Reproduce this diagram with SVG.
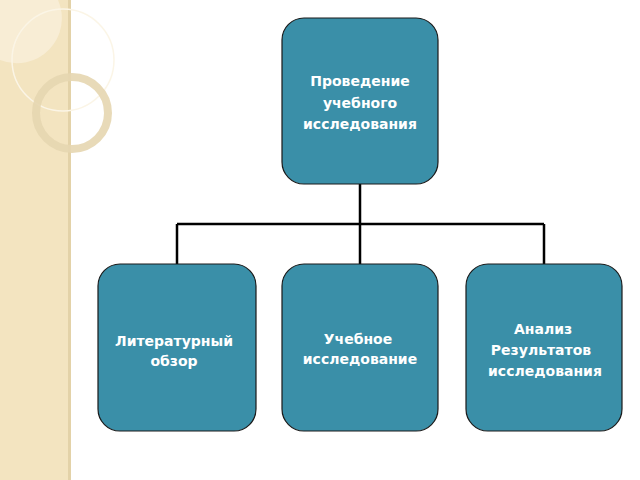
<svg xmlns="http://www.w3.org/2000/svg" width="640" height="480" viewBox="0 0 640 480">
<style>
.b{fill:#3a8fa8;stroke:#1a1a1a;stroke-width:1.2}
.t{font-family:"DejaVu Sans",sans-serif;font-weight:bold;font-size:14px;fill:#fff;text-anchor:middle}
.c{stroke:#000;stroke-width:2.5;fill:none}
</style>
<rect width="640" height="480" fill="#fff"/>
<rect x="0" y="0" width="70" height="480" fill="#f3e4c0"/>
<rect x="68" y="0" width="3" height="480" fill="#e3d2a8"/>
<path d="M0 0 H58 A45 45 0 0 1 0 60 Z" fill="#f8edd5"/>
<circle cx="63" cy="60" r="51" fill="none" stroke="#fbf5e6" stroke-width="1.5"/>
<circle cx="72" cy="113" r="36" fill="none" stroke="#e6d6b0" stroke-width="8" opacity="0.9"/>
<g class="c" id="connectors">
<path d="M360 184 V224 M177 224 H544 M177 224 V264 M360 224 V264 M544 224 V264"/>
</g>
<g id="top"><rect class="b" x="282" y="18" width="156" height="166" rx="22"/>
<text class="t" x="360" y="86">Проведение</text><text class="t" x="360" y="108">учебного</text><text class="t" x="360" y="129">исследования</text></g>
<g id="n1"><rect class="b" x="98" y="264" width="158" height="167" rx="22"/>
<text class="t" x="174" y="346">Литературный</text><text class="t" x="174" y="366">обзор</text></g>
<g id="n2"><rect class="b" x="282" y="264" width="156" height="167" rx="22"/>
<text class="t" x="358" y="344">Учебное</text><text class="t" x="360" y="364">исследование</text></g>
<g id="n3"><rect class="b" x="466" y="264" width="156" height="167" rx="22"/>
<text class="t" x="543" y="334">Анализ</text><text class="t" x="541" y="355">Результатов</text><text class="t" x="545" y="376">исследования</text></g>
</svg>
